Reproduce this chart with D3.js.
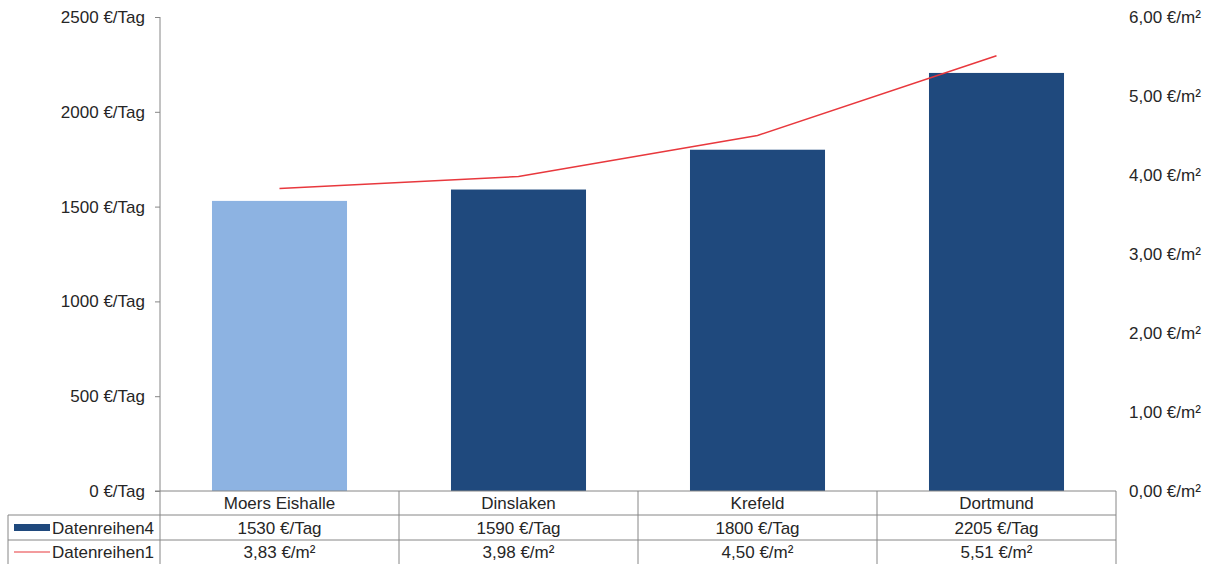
<!DOCTYPE html>
<html><head><meta charset="utf-8">
<script src="https://cdn.jsdelivr.net/npm/d3@7"></script>
<style>
body{margin:0;background:#fff;}
text{font-family:"Liberation Sans",Arial,sans-serif;fill:#262626;}
</style></head>
<body><svg id="c" width="1213" height="564"></svg>
<script>
const categories = ["Moers Eishalle","Dinslaken","Krefeld","Dortmund"];
const barValues = [1530,1590,1800,2205];
const lineValues = [3.83,3.98,4.50,5.51];
const leftTicks = [0,500,1000,1500,2000,2500];
const rightTicks = [0,1,2,3,4,5,6];
const barSeriesName = "Datenreihen4";
const lineSeriesName = "Datenreihen1";

const svg = d3.select("#c");
const W = 1213, H = 564;
const plotL = 160, plotR = 1116, plotT = 17, plotB = 491;
const rowH = [491, 515, 540, 564];
const fs = 17;

const x = d3.scaleBand().domain(categories).range([plotL, plotR]).padding(0);
const yL = d3.scaleLinear().domain([0,2500]).range([plotB, plotT]);
const yR = d3.scaleLinear().domain([0,6]).range([plotB, plotT]);
const barW = x.bandwidth()*0.565;
const fmtEur = v => v + " €/Tag";
const fmtM2 = v => v.toFixed(2).replace(".", ",") + " €/m²";

// bars
svg.selectAll("rect.bar").data(categories).enter().append("rect")
  .attr("class","bar")
  .attr("x", d => x(d) + (x.bandwidth()-barW)/2)
  .attr("width", barW)
  .attr("y", (d,i) => yL(barValues[i]))
  .attr("height", (d,i) => plotB - yL(barValues[i]))
  .attr("fill", (d,i) => i===0 ? "#8DB3E2" : "#1F497D");

// line
const line = d3.line().x((d,i)=>x(categories[i])+x.bandwidth()/2).y(d=>yR(d));
svg.append("path").datum(lineValues).attr("d", line)
  .attr("fill","none").attr("stroke","#E8383D").attr("stroke-width",1.5);

// left axis
const gL = svg.append("g").attr("transform",`translate(${plotL},0)`)
  .call(d3.axisLeft(yL).tickValues(leftTicks).tickFormat(fmtEur).tickSize(5).tickPadding(10));
gL.select(".domain").remove();
gL.selectAll(".tick line").attr("stroke","#868686");
gL.selectAll(".tick text").attr("font-size",fs).attr("font-family","Liberation Sans, Arial, sans-serif").attr("fill","#262626");
svg.append("line").attr("x1",plotL).attr("x2",plotL).attr("y1",plotT).attr("y2",H)
  .attr("stroke","#868686").attr("stroke-width",1);

// right axis (labels only)
const gR = svg.append("g").attr("transform",`translate(${plotR},0)`)
  .call(d3.axisRight(yR).tickValues(rightTicks).tickFormat(fmtM2).tickSize(0).tickPadding(13));
gR.select(".domain").remove();
gR.selectAll(".tick text").attr("font-size",fs).attr("font-family","Liberation Sans, Arial, sans-serif").attr("fill","#262626");

// data table
const grid = "#868686";
svg.append("line").attr("x1",plotL-5).attr("x2",plotR).attr("y1",rowH[0]).attr("y2",rowH[0]).attr("stroke",grid);
[1,2].forEach(r=>{
  svg.append("line").attr("x1",8).attr("x2",plotR).attr("y1",rowH[r]).attr("y2",rowH[r]).attr("stroke",grid);
});
svg.append("line").attr("x1",8).attr("x2",8).attr("y1",rowH[1]).attr("y2",H).attr("stroke",grid);
categories.forEach((c,i)=>{
  svg.append("line").attr("x1",x(c)+x.bandwidth()).attr("x2",x(c)+x.bandwidth())
    .attr("y1",rowH[0]).attr("y2",H).attr("stroke",grid);
});
const rowTexts = [categories, barValues.map(fmtEur), lineValues.map(fmtM2)];
rowTexts.forEach((arr,r)=>{
  svg.selectAll(null).data(arr).enter().append("text")
    .attr("x",(d,i)=>x(categories[i])+x.bandwidth()/2)
    .attr("y",(rowH[r]+rowH[r+1])/2)
    .attr("dy","0.36em").attr("text-anchor","middle").attr("font-size",fs)
    .text(d=>d);
});
// legend cells
svg.append("rect").attr("x",14).attr("y",524).attr("width",36).attr("height",7).attr("fill","#1F497D");
svg.append("text").attr("x",52).attr("y",(rowH[1]+rowH[2])/2).attr("dy","0.36em").attr("font-size",fs).text(barSeriesName);
svg.append("line").attr("x1",14).attr("x2",50).attr("y1",552).attr("y2",552).attr("stroke","#E8383D").attr("stroke-width",1.2);
svg.append("text").attr("x",52).attr("y",(rowH[2]+rowH[3])/2).attr("dy","0.36em").attr("font-size",fs).text(lineSeriesName);
</script></body></html>
